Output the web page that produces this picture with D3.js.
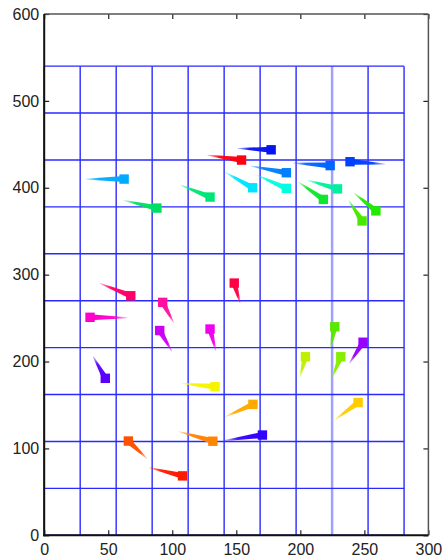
<!DOCTYPE html>
<html lang="en">
<head>
<meta charset="UTF-8">
<script src="https://d3js.org/d3.v7.min.js"></script>
<title>tadpole plot</title>
<style>
  body { margin: 0; background: #fff; }
  svg text { font-family: "Liberation Sans", Arial, sans-serif; }
</style>
</head>
<body>
<svg id="chart" width="442" height="559"></svg>
<script>
// marker positions (square) and where each tail ends, in data units
const px = [62.4, 88, 129.5, 154.1, 177.2, 189.1, 162.7, 189.1, 223.3, 238.8, 218, 229, 259, 248.2,
            67.6, 92.5, 35.8, 90.2, 129.5, 148.4, 47.7, 133.4, 226.9, 249, 204, 231.6, 163, 245.1, 170.4, 131.7, 65.7, 108];
const py = [410, 376.6, 389.3, 431.9, 443.7, 417.3, 400, 399.3, 425.5, 430, 386.6, 398.7, 373.4, 361.8,
            275.7, 268.1, 250.9, 235.7, 237.4, 290.3, 180.7, 171, 240, 222.2, 205.5, 205.5, 150.7, 152.8, 115.4, 108.3, 108.5, 68.4];
const tx = [32.2, 62.2, 106.5, 127.5, 151, 161.4, 141.5, 166.1, 194.5, 266.3, 198.7, 205.5, 242, 237.8,
            43.5, 101.2, 64.7, 99.8, 134, 153, 38.3, 107, 223.6, 238.3, 199.7, 224.7, 141.5, 227.2, 141, 105.4, 80.2, 82];
const ty = [410, 385.4, 403, 437.6, 445.3, 425, 417.7, 414.6, 428.4, 427.1, 406.5, 408.8, 393.8, 385.4,
            290, 244.5, 250.4, 211.6, 212.2, 267.2, 205.5, 174.9, 215.7, 197.9, 182.2, 181.2, 136.5, 133.2, 109.1, 119.2, 88.4, 78];
const colors = ["#00aaff", "#00e060", "#00e676", "#ff0010", "#0814f0", "#0080ff", "#00e5ff", "#00ffe0", "#0066ff", "#0040ff", "#10e630", "#00f0a0", "#22ea00", "#48e800",
                "#ff0066", "#ff10a0", "#ff00cc", "#cc00f5", "#f000f0", "#ff0044", "#5a00ff", "#f5f500", "#5ae800", "#9900ff", "#c0f000", "#88ee00", "#ffaa00", "#ffcc00", "#3300ff", "#ff8400", "#ff5000", "#ff1a00"];

const xTicks = [0, 50, 100, 150, 200, 250, 300];
const yTicks = [0, 100, 200, 300, 400, 500, 600];

const svg = d3.select("#chart");

const x = d3.scaleLinear().domain([0, 300]).range([44.2, 428.4]);
const y = d3.scaleLinear().domain([0, 600]).range([535.3, 14]);

// blue grid
const gridX = d3.range(11).map(i => i * 28.1);
const gridY = d3.range(11).map(i => i * 54);
const grid = svg.append("g");
grid.selectAll("line.v").data(gridX).join("line")
    .attr("x1", d => x(d)).attr("x2", d => x(d))
    .attr("y1", y(0)).attr("y2", y(540))
    .attr("stroke", (d, i) => i === 8 ? "#a0a0ff" : "#2a2aff")
    .attr("stroke-width", (d, i) => i === 8 ? 2.5 : 1.4);
grid.selectAll("line.h").data(gridY).join("line")
    .attr("x1", x(0)).attr("x2", x(gridX[10]))
    .attr("y1", d => y(d)).attr("y2", d => y(d))
    .attr("stroke", "#2a2aff").attr("stroke-width", 1.4);

// tadpoles
const pts = px.map((v, i) => ({x: v, y: py[i], tx: tx[i], ty: ty[i], c: colors[i]}));
const defs = svg.append("defs");
pts.forEach((d, i) => {
    const g = defs.append("linearGradient").attr("id", "g" + i)
        .attr("gradientUnits", "userSpaceOnUse")
        .attr("x1", x(d.x)).attr("y1", y(d.y)).attr("x2", x(d.tx)).attr("y2", y(d.ty));
    g.append("stop").attr("offset", 0).attr("stop-color", d.c).attr("stop-opacity", 1);
    g.append("stop").attr("offset", 0.65).attr("stop-color", d.c).attr("stop-opacity", 0.95);
    g.append("stop").attr("offset", 1).attr("stop-color", d.c).attr("stop-opacity", 0.25);
});

function tail(d) {
    const x0 = x(d.x), y0 = y(d.y), x1 = x(d.tx), y1 = y(d.ty);
    const len = Math.hypot(x1 - x0, y1 - y0);
    const nx = -(y1 - y0) / len, ny = (x1 - x0) / len;
    const w0 = 3, w1 = 0.4;
    return [[x0 + nx * w0, y0 + ny * w0], [x1 + nx * w1, y1 + ny * w1],
            [x1 - nx * w1, y1 - ny * w1], [x0 - nx * w0, y0 - ny * w0]]
        .map(p => p.join(",")).join(" ");
}

const marks = svg.append("g");
marks.selectAll("polygon").data(pts).join("polygon")
    .attr("points", tail)
    .attr("fill", (d, i) => `url(#g${i})`);
marks.selectAll("rect").data(pts).join("rect")
    .attr("x", d => x(d.x) - 4.7).attr("y", d => y(d.y) - 4.7)
    .attr("width", 9.4).attr("height", 9.4)
    .attr("fill", d => d.c);

// axes, ticks pointing in
const fmt = d3.format("d");
const xAxis = svg.append("g").attr("transform", `translate(0,${y(0)})`)
    .call(d3.axisBottom(x).tickValues(xTicks).tickFormat(fmt).tickSizeInner(-5).tickSizeOuter(0).tickPadding(8));
const yAxis = svg.append("g").attr("transform", `translate(${x(0)},0)`)
    .call(d3.axisLeft(y).tickValues(yTicks).tickFormat(fmt).tickSizeInner(-5).tickSizeOuter(0).tickPadding(5));
svg.append("g").attr("transform", `translate(0,${y(600)})`)
    .call(d3.axisTop(x).tickValues(xTicks).tickFormat("").tickSizeInner(-5).tickSizeOuter(0));
svg.append("g").attr("transform", `translate(${x(300)},0)`)
    .call(d3.axisRight(y).tickValues(yTicks).tickFormat("").tickSizeInner(-5).tickSizeOuter(0));

svg.selectAll(".domain").remove();
svg.selectAll(".tick line").attr("stroke", "#222").attr("stroke-width", 1.2);
svg.selectAll(".tick text").attr("font-size", 16).attr("fill", "#222")
    .style("font-family", "'Liberation Sans', Arial, sans-serif");

// frame
svg.append("line").attr("x1", x(0)).attr("x2", x(300)).attr("y1", y(600)).attr("y2", y(600))
    .attr("stroke", "#555").attr("stroke-width", 1.5);
svg.append("line").attr("x1", x(300)).attr("x2", x(300)).attr("y1", y(0)).attr("y2", y(600))
    .attr("stroke", "#555").attr("stroke-width", 1.5);
svg.append("line").attr("x1", x(0)).attr("x2", x(0)).attr("y1", y(0) + 1).attr("y2", y(600))
    .attr("stroke", "#111").attr("stroke-width", 2);
svg.append("line").attr("x1", x(0) - 1).attr("x2", x(300)).attr("y1", y(0)).attr("y2", y(0))
    .attr("stroke", "#111").attr("stroke-width", 2);
</script>
</body>
</html>
